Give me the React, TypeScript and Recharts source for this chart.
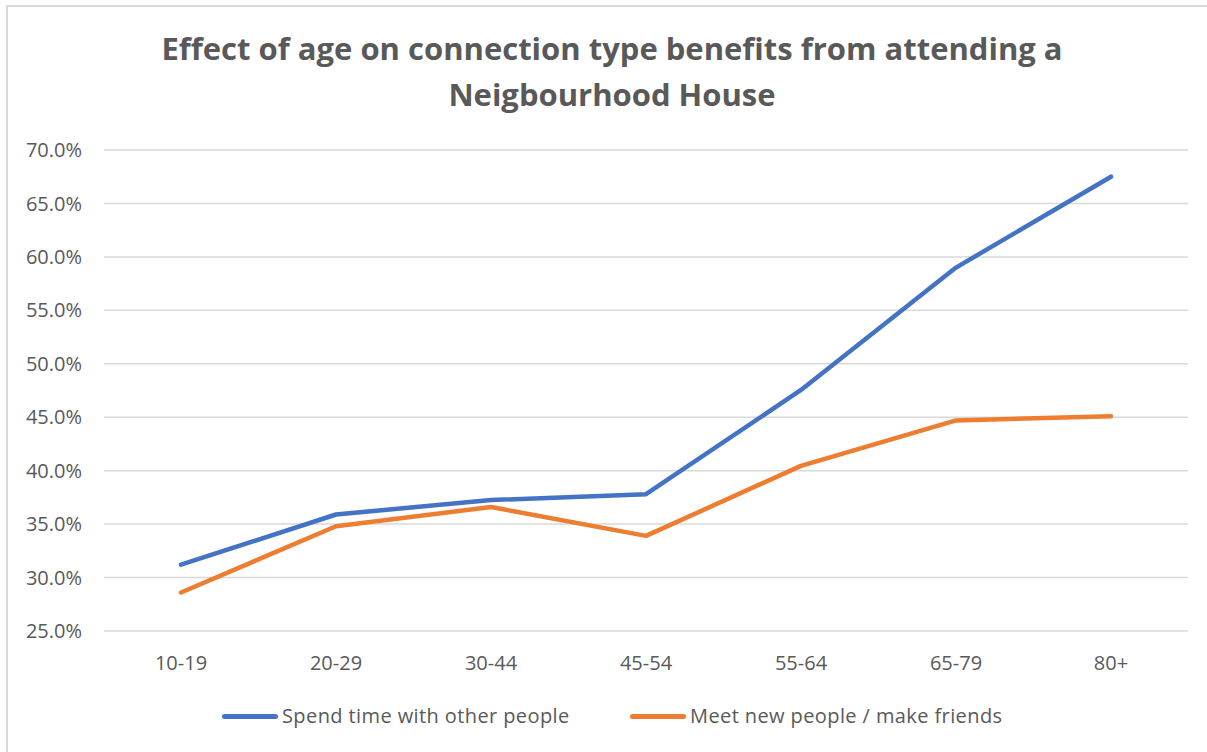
import { CartesianGrid, Line, LineChart, XAxis, YAxis } from 'recharts';

const ageGroups = ['10-19', '20-29', '30-44', '45-54', '55-64', '65-79', '80+'];
const spendTime = [31.2, 35.9, 37.25, 37.8, 47.55, 59.0, 67.5];
const meetNew = [28.6, 34.8, 36.6, 33.9, 40.45, 44.7, 45.1];
const yTicks = [25, 30, 35, 40, 45, 50, 55, 60, 65, 70];

const seriesNames = ['Spend time with other people', 'Meet new people / make friends'];
const seriesColors = ['#4472C4', '#ED7D31'];

const rows = ageGroups.map((age, i) => ({
  age,
  spend: spendTime[i],
  meet: meetNew[i],
}));

const textColor = '#595959';
const font = '"Open Sans", "Noto Sans", sans-serif';

export default function App() {
  return (
    <div
      style={{
        position: 'absolute',
        left: 6,
        top: 5,
        width: 1199,
        height: 745,
        borderLeft: '2px solid #d9d9d9',
        borderTop: '2px solid #d9d9d9',
        background: '#fff',
        fontFamily: font,
      }}
    >
      <div
        style={{
          position: 'absolute',
          left: 0,
          top: 18,
          width: 1208,
          textAlign: 'center',
          fontSize: 31,
          lineHeight: '46px',
          fontWeight: 700,
          color: textColor,
        }}
      >
        Effect of age on connection type benefits from attending a
        <br />
        Neigbourhood House
      </div>

      <LineChart
        width={1199}
        height={745}
        data={rows}
        margin={{ top: 143, right: 19, left: 0, bottom: 81 }}
      >
        <CartesianGrid vertical={false} stroke="#d9d9d9" strokeWidth={1.5} />
        <XAxis
          dataKey="age"
          height={40}
          padding={{ left: 77, right: 77 }}
          axisLine={false}
          tickLine={false}
          tickSize={0}
          tickMargin={25}
          tick={{ fontSize: 20, fill: textColor, fontFamily: font }}
        />
        <YAxis
          width={96}
          domain={[25, 70]}
          ticks={yTicks}
          axisLine={false}
          tickLine={false}
          tickSize={0}
          tickMargin={22}
          tickFormatter={(v: number) => `${v.toFixed(1)}%`}
          tick={{ fontSize: 20, fill: textColor, fontFamily: font }}
        />
        <Line
          type="linear"
          dataKey="spend"
          stroke={seriesColors[0]}
          strokeWidth={4.5}
          strokeLinecap="round"
          strokeLinejoin="round"
          dot={false}
          isAnimationActive={false}
          name={seriesNames[0]}
        />
        <Line
          type="linear"
          dataKey="meet"
          stroke={seriesColors[1]}
          strokeWidth={4.5}
          strokeLinecap="round"
          strokeLinejoin="round"
          dot={false}
          isAnimationActive={false}
          name={seriesNames[1]}
        />
      </LineChart>

      {/* legend */}
      {seriesNames.map((name, i) => (
        <div
          key={name}
          style={{
            position: 'absolute',
            left: i === 0 ? 214 : 622,
            top: 695,
            display: 'flex',
            alignItems: 'center',
            fontSize: 20,
            lineHeight: '28px',
            letterSpacing: 0.4,
            color: textColor,
            whiteSpace: 'nowrap',
          }}
        >
          <span
            style={{
              display: 'inline-block',
              width: 56,
              height: 5,
              borderRadius: 3,
              background: seriesColors[i],
              marginRight: 4,
            }}
          />
          {name}
        </div>
      ))}
    </div>
  );
}
